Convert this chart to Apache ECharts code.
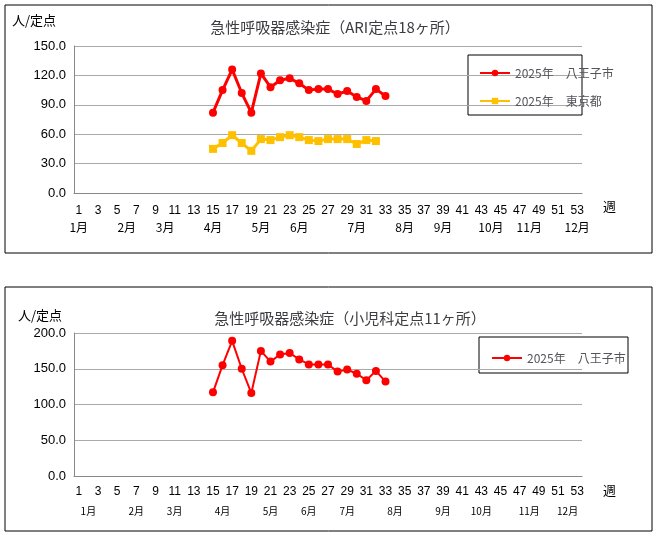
<!DOCTYPE html><html><head><meta charset="utf-8"><script src="https://cdn.jsdelivr.net/npm/echarts@6/dist/echarts.min.js"></script></head><body style="margin:0"><div id="c" style="width:658px;height:533px"></div><script>
const weeks=[];for(let i=1;i<=53;i++)weeks.push(String(i));
const hachiojiARI=[82,105,126,102,82,122,108,115,117,112,105,106,106,101,104,98,94,106,99];
const tokyoARI=[45,51,59,51,43,55,54,57,59,57,54,53,55,55,55,50,54,53];
const hachiojiPed=[117,155,189,150,116,175,160,170,172,163,156,156,156,146,149,143,134,147,132];
const months=['1月','2月','3月','4月','5月','6月','7月','8月','9月','10月','11月','12月'];
const monthWeeks1=[1,6,10,15,20,24,30,35,39,44,48,53];
const monthWeeks2=[2,7,11,16,21,25,29,34,39,43,48,52];
function pad(v){const a=new Array(14).fill(null);return a.concat(v);}
const F='"MS PGothic","Noto Sans CJK JP",sans-serif';
function monthAxis(gi,mw,off,fs){return {type:'category',gridIndex:gi,data:weeks,position:'bottom',offset:off,axisLine:{show:false},axisTick:{show:false},
 axisLabel:{interval:0,fontSize:fs,color:'#000',fontFamily:F,formatter:(v)=>{const k=mw.indexOf(+v);return k>=0?months[k]:'';}}};}
const ch=echarts.init(document.getElementById('c'));
ch.setOption({animation:false,
graphic:[{type:'rect',shape:{x:5,y:5,width:647,height:248},style:{fill:'none',stroke:'#000',lineWidth:1}},
{type:'rect',shape:{x:5,y:287,width:647,height:244},style:{fill:'none',stroke:'#000',lineWidth:1}},
{type:'text',left:12,top:14,style:{text:'人/定点',font:'13px '+F}},
{type:'text',left:603,top:200,style:{text:'週',font:'13px '+F}},
{type:'text',left:18,top:309,style:{text:'人/定点',font:'13px '+F}},
{type:'text',left:603,top:484,style:{text:'週',font:'13px '+F}},
{type:'rect',shape:{x:468,y:55,width:114,height:60},style:{fill:'#fff',stroke:'#000'}},
{type:'rect',shape:{x:479,y:337,width:149,height:36},style:{fill:'#fff',stroke:'#000'}}],
title:[{text:'急性呼吸器感染症（ARI定点18ヶ所）',left:330,textAlign:'center',top:15,textStyle:{fontSize:15,fontWeight:'normal',fontFamily:F}},
{text:'急性呼吸器感染症（小児科定点11ヶ所）',left:345,textAlign:'center',top:306,textStyle:{fontSize:15,fontWeight:'normal',fontFamily:F}}],
legend:[{orient:'vertical',left:474,top:62,itemGap:16,itemWidth:30,itemHeight:8,textStyle:{fontSize:12,fontFamily:F},data:['2025年　八王子市','2025年　東京都']},
{left:486,top:347,itemWidth:30,itemHeight:8,textStyle:{fontSize:12,fontFamily:F},data:['2025年　八王子市 ']}],
grid:[{left:74,right:76,top:46,height:147},{left:74,right:76,top:333,height:143}],
xAxis:[{type:'category',gridIndex:0,data:weeks,axisLine:{lineStyle:{color:'#888'}},axisTick:{show:false},axisLabel:{interval:1,fontSize:12,color:'#000',margin:12}},
monthAxis(0,monthWeeks1,20,12),
{type:'category',gridIndex:1,data:weeks,axisLine:{lineStyle:{color:'#888'}},axisTick:{show:false},axisLabel:{interval:1,fontSize:12,color:'#000',margin:10}},
monthAxis(1,monthWeeks2,22,10)],
yAxis:[{gridIndex:0,min:0,max:150,interval:30,axisLabel:{formatter:v=>v.toFixed(1),fontSize:13,color:'#000'},splitLine:{lineStyle:{color:'#aaa'}},axisLine:{show:true,lineStyle:{color:'#888'}}},
{gridIndex:1,min:0,max:200,interval:50,axisLabel:{formatter:v=>v.toFixed(1),fontSize:13,color:'#000'},splitLine:{lineStyle:{color:'#aaa'}},axisLine:{show:true,lineStyle:{color:'#888'}}}],
series:[{name:'2025年　八王子市',type:'line',xAxisIndex:0,yAxisIndex:0,data:pad(hachiojiARI),showAllSymbol:true,symbol:'circle',symbolSize:8,color:'#ff0000',lineStyle:{width:3},z:3},
{name:'2025年　東京都',type:'line',xAxisIndex:0,yAxisIndex:0,data:pad(tokyoARI),showAllSymbol:true,symbol:'rect',symbolSize:8,color:'#ffc000',lineStyle:{width:3}},
{name:'2025年　八王子市 ',type:'line',xAxisIndex:2,yAxisIndex:1,data:pad(hachiojiPed),showAllSymbol:true,symbol:'circle',symbolSize:8,color:'#ff0000',lineStyle:{width:2}}]});
</script></body></html>
